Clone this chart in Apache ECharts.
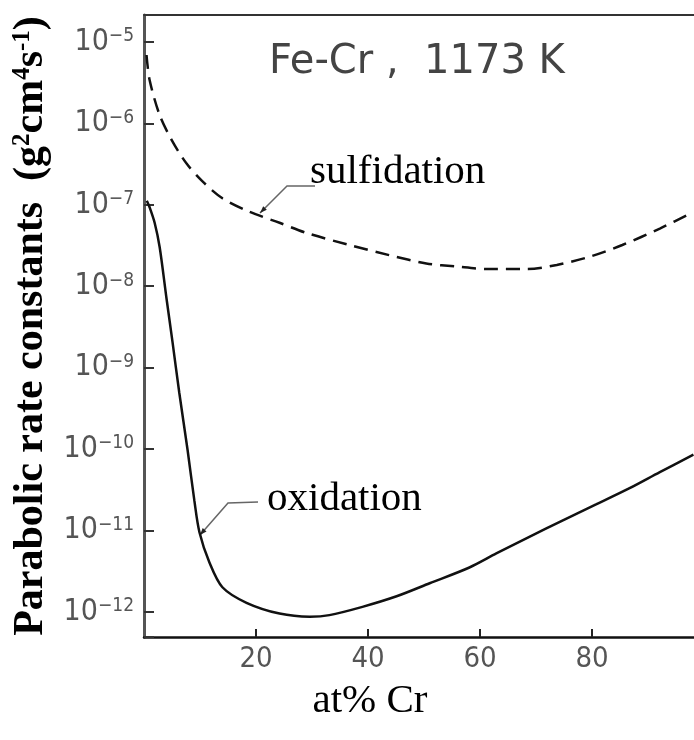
<!DOCTYPE html>
<html>
<head>
<meta charset="utf-8">
<script src="https://cdn.jsdelivr.net/npm/echarts@6/dist/echarts.min.js"></script>
<style>
html,body{margin:0;padding:0;background:#fff;}
#chart{width:694px;height:740px;}
</style>
</head>
<body>
<div id="chart"></div>
<script>
// ---- data (at% Cr vs parabolic rate constant) ----
var sulfX = [0.45, 1.0, 2.8, 4.9, 7.6, 10.4, 14.0, 18.8, 24.2, 29.0, 36.7, 43.8, 50.4, 55.8, 61.7, 68.3, 73.7, 79.6, 85.4, 92.1, 98.0];
var sulfY = [6.9e-6, 3.4e-6, 1.26e-6, 6.3e-7, 3.2e-7, 1.95e-7, 1.2e-7, 8.2e-8, 6.0e-8, 4.5e-8, 3.2e-8, 2.4e-8, 1.9e-8, 1.74e-8, 1.62e-8, 1.62e-8, 1.82e-8, 2.3e-8, 3.2e-8, 5.1e-8, 8.1e-8];
var oxX = [0.5, 1.0, 1.9, 2.8, 4.0, 5.1, 6.3, 7.8, 9.0, 9.9, 11.7, 14.0, 18.3, 24.2, 29.6, 33.1, 39.0, 45.1, 51.0, 58.1, 62.9, 68.8, 74.7, 80.8, 86.7, 92.1, 98.1];
var oxY = [1.12e-7, 9.3e-8, 6.0e-8, 3.0e-8, 7.2e-9, 2.04e-9, 4.9e-10, 9.5e-11, 2.3e-11, 9.5e-12, 4.0e-12, 2.0e-12, 1.29e-12, 9.5e-13, 8.7e-13, 9.1e-13, 1.15e-12, 1.55e-12, 2.24e-12, 3.5e-12, 5.2e-12, 8.3e-12, 1.32e-11, 2.1e-11, 3.3e-11, 5.2e-11, 8.5e-11];
var xTickLabels = ['20', '40', '60', '80'];
var seriesNames = ['sulfidation', 'oxidation'];
var titleText = 'Fe-Cr ,  1173 K';

var SANS = "'DejaVu Sans Condensed','DejaVu Sans',sans-serif";
var SERIF = "'Liberation Serif','Times New Roman',serif";

function pairs(xs, ys) { return xs.map(function (x, i) { return [x, ys[i]]; }); }

var chart = echarts.init(document.getElementById('chart'), null, {renderer: 'canvas'});
chart.setOption({
  backgroundColor: '#fff',
  animation: false,
  title: {
    text: titleText,
    left: 264, top: 38,
    textStyle: {fontFamily: "'DejaVu Sans',sans-serif", fontWeight: 'normal', fontSize: 40, color: '#444'}
  },
  grid: {left: 144, top: 15, right: 0, bottom: 103, containLabel: false},
  xAxis: [{
    type: 'value', min: 0, max: 98.2, interval: 20, position: 'bottom',
    axisLine: {show: true, lineStyle: {color: '#111', width: 2.5}},
    axisTick: {show: true, inside: true, length: 8, lineStyle: {color: '#222', width: 2}},
    splitLine: {show: false},
    axisLabel: {
      show: true, margin: 8, color: '#555', fontFamily: SANS, fontSize: 29,
      showMinLabel: false, showMaxLabel: false,
      formatter: function (v) { var s = String(Math.round(v)); return xTickLabels.indexOf(s) >= 0 ? s : ''; }
    },
    name: 'at% Cr', nameLocation: 'middle', nameGap: 44,
    nameTextStyle: {fontFamily: SERIF, fontSize: 41, color: '#000', padding: [0, 98, 0, 0]}
  }, {
    type: 'value', min: 0, max: 98.2, position: 'top',
    axisLine: {show: true, lineStyle: {color: '#333', width: 2}},
    axisTick: {show: false}, axisLabel: {show: false}, splitLine: {show: false}
  }],
  yAxis: {
    type: 'log', logBase: 10, min: 4.9e-13, max: 2.14e-5,
    axisLine: {show: true, lineStyle: {color: '#555', width: 3}},
    axisTick: {show: true, inside: true, length: 10, lineStyle: {color: '#333', width: 2}},
    minorTick: {show: false},
    splitLine: {show: false},
    axisLabel: {
      margin: 10,
      formatter: function (v) {
        var e = Math.log10(v);
        if (Math.abs(e - Math.round(e)) > 1e-6) return '';
        return '{b|10}{s|\u2212' + Math.abs(Math.round(e)) + '}';
      },
      rich: {
        b: {fontFamily: SANS, fontSize: 30, color: '#555'},
        s: {fontFamily: SANS, fontSize: 19, color: '#555', verticalAlign: 'top'}
      }
    },
    name: '{n|Parabolic rate constants  (g}{p|2}{n|cm}{p|4}{n|s}{p|-1}{n|)}',
    nameLocation: 'middle', nameGap: 92, nameRotate: 90,
    nameTextStyle: {
      rich: {
        n: {fontFamily: SERIF, fontWeight: 'bold', fontSize: 42, color: '#000'},
        p: {fontFamily: SERIF, fontWeight: 'bold', fontSize: 25, color: '#000', verticalAlign: 'top'}
      }
    }
  },
  series: [{
    name: seriesNames[0], type: 'line', xAxisIndex: 0, data: pairs(sulfX, sulfY),
    smooth: 0.3, showSymbol: false, symbol: 'none',
    lineStyle: {color: '#111', width: 2.5, type: [14, 8]}
  }, {
    name: seriesNames[1], type: 'line', xAxisIndex: 0, data: pairs(oxX, oxY),
    smooth: 0.3, showSymbol: false, symbol: 'none',
    lineStyle: {color: '#111', width: 2.5}
  }],
  graphic: [
    {type: 'polyline', shape: {points: [[260, 213], [287, 186], [315, 186]]}, style: {stroke: '#666', lineWidth: 1.5, fill: null}},
    {type: 'polygon', shape: {points: [[260, 213], [266.8, 209.8], [263.2, 206.2]]}, style: {fill: '#222'}},
    {type: 'text', x: 310, y: 172, style: {text: seriesNames[0], fontFamily: SERIF, fontSize: 41, fill: '#000', verticalAlign: 'middle', align: 'left'}},
    {type: 'polyline', shape: {points: [[200, 535], [228, 503], [258, 502]]}, style: {stroke: '#666', lineWidth: 1.5, fill: null}},
    {type: 'polygon', shape: {points: [[200, 535], [206.5, 531.5], [202.7, 528.1]]}, style: {fill: '#222'}},
    {type: 'text', x: 267, y: 499, style: {text: seriesNames[1], fontFamily: SERIF, fontSize: 41, fill: '#000', verticalAlign: 'middle', align: 'left'}}
  ]
});
</script>
</body>
</html>
